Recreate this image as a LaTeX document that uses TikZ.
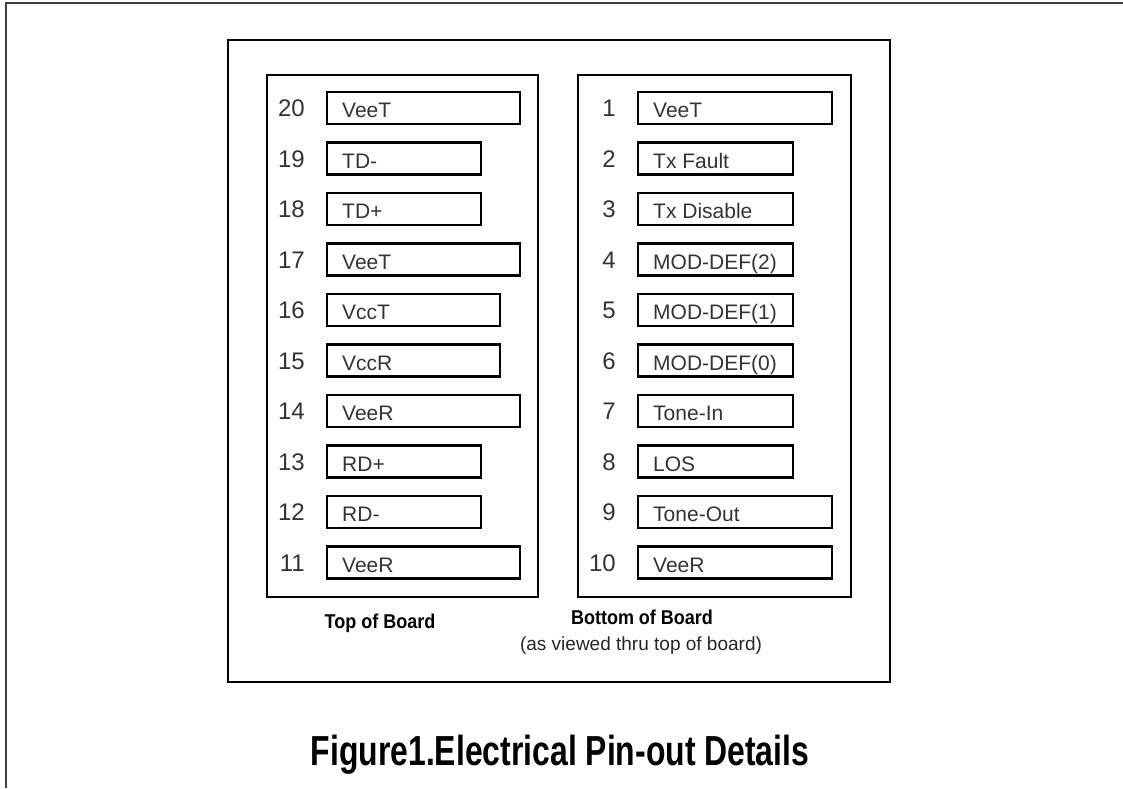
\documentclass[tikz,border=0pt]{standalone}
\usepackage{fontspec}
\setmainfont{Liberation Sans}
\newfontfamily\boardfont[FakeStretch=0.9]{Liberation Sans}
\newfontfamily\figfont[FakeStretch=0.76]{Liberation Sans}
\usepackage{tikz}
\tikzstyle{frame}=[line width=2.5pt]
\tikzstyle{panel}=[line width=2.2pt]
\tikzstyle{pinbox}=[draw,line width=2.2pt,minimum height=32pt,inner sep=0pt,anchor=west]
\tikzstyle{pinnum}=[anchor=base east,inner sep=0pt,text=black!80,font=\fontsize{24}{24}\selectfont]
\tikzstyle{pintext}=[anchor=base west,inner sep=0pt,text=black!80,font=\fontsize{21}{21}\selectfont]
\tikzstyle{boardlbl}=[anchor=base,inner sep=0pt,font=\boardfont\bfseries\fontsize{20}{20}\selectfont]
\tikzstyle{viewlbl}=[anchor=base,inner sep=0pt,text=black!85,font=\fontsize{19}{19}\selectfont]
\tikzstyle{figlbl}=[anchor=base,inner sep=0pt,font=\figfont\bfseries\fontsize{42}{42}\selectfont]

\begin{document}
\begin{tikzpicture}[x=1pt,y=-1pt]
    \useasboundingbox (0,0) rectangle (1123,788);
    \draw[line width=1.8pt,black!75] (6,788) -- (6,3) -- (1123,3);
    \draw[frame] (228,40) rectangle (890,682);
    \draw[panel] (267,75) rectangle (538,597);
    \draw[panel] (578,75) rectangle (851,597);

    % top of board, pins 20..11
    \foreach \n/\txt/\w [count=\i from 0] in {20/VeeT/193,19/TD-/154,18/TD+/154,17/VeeT/193,16/VccT/173,
        15/VccR/173,14/VeeR/193,13/RD+/154,12/RD-/154,11/VeeR/193}{
      \node[pinbox,minimum width=\w pt] (p\n) at (326,{108+50.5*\i}) {};
      \node[pinnum] (n\n) at ([xshift=-21pt,yshift=-8.5pt]p\n.west) {\n};
      \node[pintext] (t\n) at ([xshift=16pt,yshift=-9.5pt]p\n.west) {\txt};
    }

    % bottom of board, pins 1..10
    \foreach \n/\txt/\w [count=\i from 0] in {1/VeeT/194,2/Tx Fault/155,3/Tx Disable/155,4/MOD-DEF(2)/155,
        5/MOD-DEF(1)/155,6/MOD-DEF(0)/155,7/Tone-In/155,8/LOS/155,9/Tone-Out/194,10/VeeR/194}{
      \node[pinbox,minimum width=\w pt] (p\n) at (637,{108+50.5*\i}) {};
      \node[pinnum] (n\n) at ([xshift=-21pt,yshift=-8.5pt]p\n.west) {\n};
      \node[pintext] (t\n) at ([xshift=16pt,yshift=-9.5pt]p\n.west) {\txt};
    }

    \node[boardlbl] (top) at (380,628) {Top of Board};
    \node[boardlbl] (bot) at (642,624) {Bottom of Board};
    \node[viewlbl] (view) at (641,650) {(as viewed thru top of board)};

    \node[figlbl] (fig) at (560,765) {Figure1.Electrical Pin-out Details};
\end{tikzpicture}
\end{document}
